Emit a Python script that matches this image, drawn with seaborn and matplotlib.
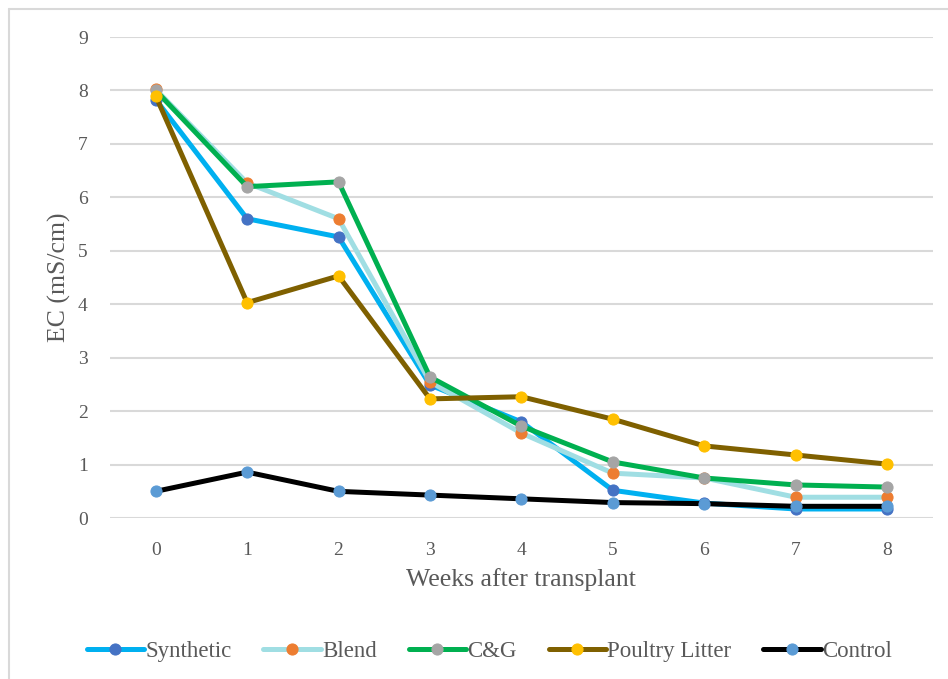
import matplotlib
matplotlib.use("Agg")
import matplotlib.pyplot as plt
import seaborn as sns
import pandas as pd
from matplotlib.lines import Line2D

weeks = [0, 1, 2, 3, 4, 5, 6, 7, 8]
synthetic = [7.83, 5.6, 5.26, 2.49, 1.8, 0.52, 0.28, 0.17, 0.17]
blend = [8.02, 6.27, 5.6, 2.55, 1.59, 0.84, 0.75, 0.39, 0.39]
cg = [8.0, 6.2, 6.29, 2.64, 1.72, 1.05, 0.75, 0.62, 0.58]
poultry = [7.9, 4.03, 4.53, 2.23, 2.27, 1.85, 1.35, 1.18, 1.01]
control = [0.5, 0.86, 0.5, 0.43, 0.36, 0.29, 0.27, 0.22, 0.22]

series_names = ["Synthetic", "Blend", "C&G", "Poultry Litter", "Control"]
series_values = [synthetic, blend, cg, poultry, control]
line_colors = ["#00B0F0", "#A0DEE3", "#00B050", "#7F6000", "#000000"]
marker_colors = ["#4472C4", "#ED7D31", "#A5A5A5", "#FFC000", "#5B9BD5"]

sns.set_theme(style="white")
plt.rcParams["font.family"] = ["Liberation Serif", "DejaVu Serif"]

fig = plt.figure(figsize=(9.48, 6.79), dpi=100)
ax = fig.add_axes([0.116, 0.237, 0.868, 0.7085])

for i, (name, vals) in enumerate(zip(series_names, series_values)):
    df = pd.DataFrame({"week": weeks, "ec": vals})
    sns.lineplot(data=df, x="week", y="ec", ax=ax, color=line_colors[i],
                 linewidth=3.6, marker="o", markersize=8,
                 markerfacecolor=marker_colors[i], markeredgecolor=marker_colors[i],
                 label=name, zorder=3 + i)

ax.set_xlim(-0.5, 8.5)
ax.set_ylim(0, 9)
ax.set_yticks(range(0, 10))
ax.set_xticks(weeks)
ax.grid(axis="y", color="#D9D9D9", linewidth=1.5)
ax.grid(axis="x", visible=False)
ax.set_axisbelow(True)
for s in ax.spines.values():
    s.set_visible(False)
ax.tick_params(axis="both", length=0, labelsize=14, labelcolor="#595959")
ax.tick_params(axis="y", pad=16)
ax.tick_params(axis="x", pad=17)
ax.set_xlabel("Weeks after transplant", fontsize=18.5, color="#595959", labelpad=7)
ax.set_ylabel("EC (mS/cm)", fontsize=18.5, color="#595959", labelpad=5)

handles, labels = ax.get_legend_handles_labels()
leg = fig.legend(handles, labels, loc="center", bbox_to_anchor=(0.516, 0.04), ncol=5,
                 frameon=False, fontsize=16.5, handlelength=2.5, handletextpad=0.05,
                 columnspacing=1.4)
for t in leg.get_texts():
    t.set_color("#595959")
if ax.get_legend():
    ax.get_legend().remove()

# figure border (top and left visible in the reference)
fig.add_artist(Line2D([0.009, 1.0], [0.987, 0.987], color="#D9D9D9", linewidth=1.5,
                      transform=fig.transFigure))
fig.add_artist(Line2D([0.009, 0.009], [0.0, 0.987], color="#D9D9D9", linewidth=1.5,
                      transform=fig.transFigure))

fig.savefig("out.png", dpi=100)
